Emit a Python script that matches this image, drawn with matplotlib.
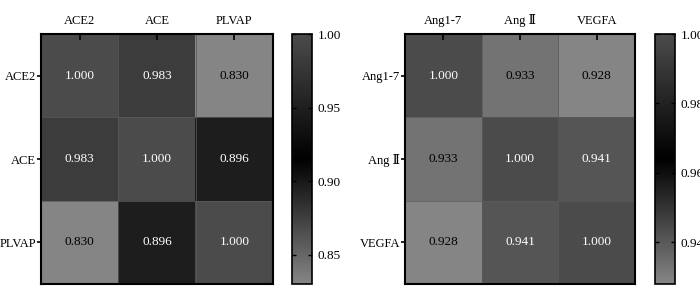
import numpy as np
import matplotlib
matplotlib.use('Agg')
import matplotlib.pyplot as plt
from matplotlib.colors import LinearSegmentedColormap

plt.rcParams['font.family'] = ['Liberation Serif', 'DejaVu Serif']
plt.rcParams['font.size'] = 10

genes = ['ACE2', 'ACE', 'PLVAP']
gene_corr = [[1.000, 0.983, 0.830],
             [0.983, 1.000, 0.896],
             [0.830, 0.896, 1.000]]
gene_ticks = [0.85, 0.90, 0.95, 1.00]

peptides = ['Ang1-7', 'Ang \u2161', 'VEGFA']
pep_corr = [[1.000, 0.933, 0.928],
            [0.933, 1.000, 0.941],
            [0.928, 0.941, 1.000]]
pep_ticks = [0.94, 0.96, 0.98, 1.00]

cmap = LinearSegmentedColormap.from_list('gkg', ['#858585', '#000000', '#4b4b4b'])

fig = plt.figure(figsize=(7, 2.86), dpi=100)


def heat(axpos, cbpos, labels, data, ticks):
    data = np.array(data)
    ax = fig.add_axes(axpos)
    vmin, vmax = data.min(), data.max()
    im = ax.imshow(data, cmap=cmap, vmin=vmin, vmax=vmax, aspect='auto')
    n = len(labels)
    for k in range(n - 1):
        ax.axhline(k + 0.5, color='#5a5a5a', lw=0.5)
        ax.axvline(k + 0.5, color='#5a5a5a', lw=0.5)
    for i in range(n):
        for j in range(n):
            rgba = cmap((data[i, j] - vmin) / (vmax - vmin))
            lum = 0.3 * rgba[0] + 0.6 * rgba[1] + 0.1 * rgba[2]
            col = 'black' if lum > 0.42 else 'white'
            ax.text(j, i, f'{data[i, j]:.3f}', ha='center', va='center', color=col, fontsize=9.5)
    ax.set_xticks(range(n))
    ax.set_yticks(range(n))
    ax.set_xticklabels(labels, fontsize=9)
    ax.set_yticklabels(labels, fontsize=9)
    ax.xaxis.tick_top()
    ax.tick_params(axis='x', direction='in', length=4, width=1.2, pad=5)
    ax.tick_params(axis='y', direction='out', length=3, width=1.2, pad=0.5)
    for s in ax.spines.values():
        s.set_linewidth(1.5)
    cax = fig.add_axes(cbpos)
    cb = fig.colorbar(im, cax=cax)
    cb.set_ticks(ticks)
    cb.set_ticklabels([f'{t:.2f}' for t in ticks])
    cax.tick_params(direction='in', left=True, right=True, length=3, width=1,
                    pad=4, labelsize=9.5)
    cb.outline.set_linewidth(1.2)
    return ax


heat([0.0586, 0.007, 0.3314, 0.874], [0.417, 0.007, 0.0286, 0.874], genes, gene_corr, gene_ticks)
heat([0.5786, 0.007, 0.3286, 0.874], [0.9357, 0.007, 0.0286, 0.874], peptides, pep_corr, pep_ticks)

fig.savefig('out.png', dpi=100)
